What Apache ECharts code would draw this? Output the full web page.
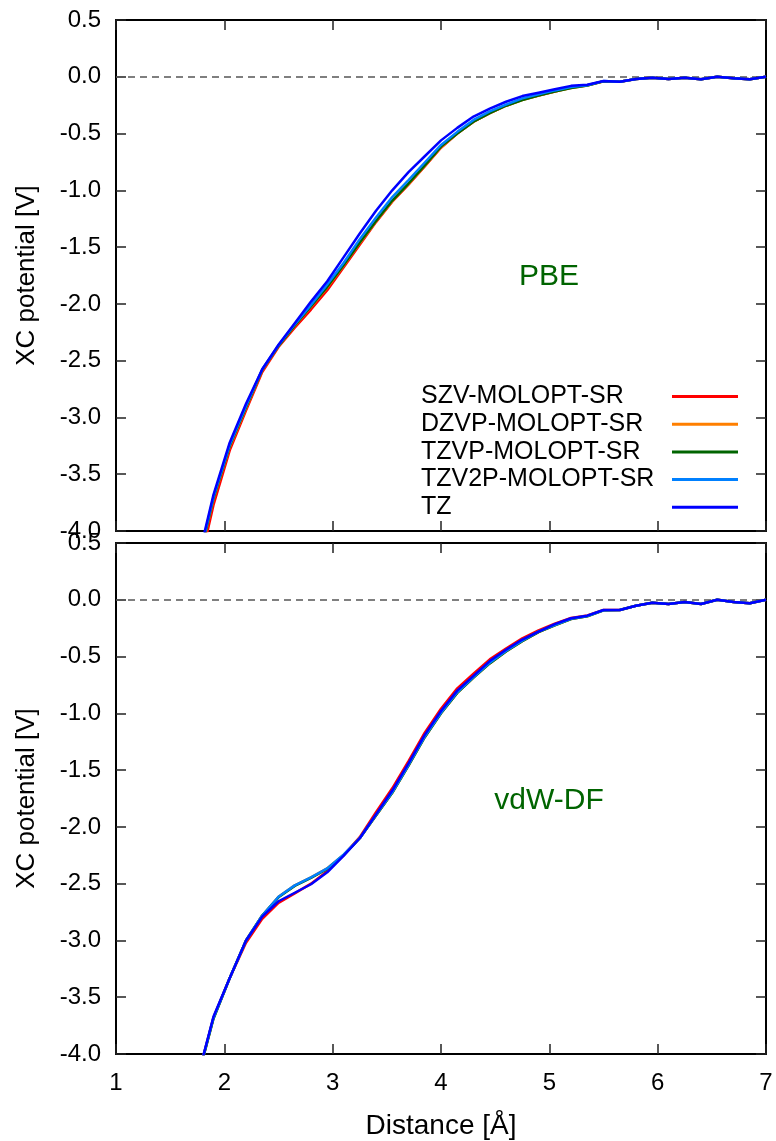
<!DOCTYPE html>
<html>
<head>
<meta charset="utf-8">
<script src="https://cdn.jsdelivr.net/npm/echarts@6/dist/echarts.min.js"></script>
<style>
html,body{margin:0;padding:0;background:#fff;}
#main{width:776px;height:1141px;}
</style>
</head>
<body>
<div id="main"></div>
<script>
const seriesNames = ['SZV-MOLOPT-SR','DZVP-MOLOPT-SR','TZVP-MOLOPT-SR','TZV2P-MOLOPT-SR','TZ'];
const seriesColors = ['#ff0000','#ff7f00','#006400','#0080ff','#0000ff'];
const panelLabels = ['PBE','vdW-DF'];
const yTicks = [-4,-3.5,-3,-2.5,-2,-1.5,-1,-0.5,0,0.5];
const xTicks = [1,2,3,4,5,6,7];

const xs = [1.75,1.9,2.05,2.2,2.35,2.5,2.65,2.8,2.95,3.1,3.25,3.4,3.55,3.7,3.85,4.0,4.15,4.3,4.45,4.6,4.75,4.9,5.05,5.2,5.35,5.5,5.65,5.8,5.95,6.1,6.25,6.4,6.55,6.7,6.85,7.0];

// PBE panel
const pbeSZV  = [-4.40,-3.77,-3.29,-2.94,-2.60,-2.38,-2.21,-2.05,-1.88,-1.68,-1.48,-1.28,-1.10,-0.95,-0.79,-0.625,-0.50,-0.395,-0.32,-0.255,-0.20,-0.165,-0.13,-0.095,-0.075,-0.04,-0.043,-0.02,-0.008,-0.02,-0.008,-0.022,0.0,-0.013,-0.022,0.0];
const pbeDZVP = [-4.33,-3.72,-3.26,-2.92,-2.585,-2.372,-2.195,-2.025,-1.855,-1.665,-1.465,-1.275,-1.095,-0.945,-0.785,-0.62,-0.50,-0.395,-0.32,-0.255,-0.205,-0.165,-0.13,-0.10,-0.078,-0.04,-0.043,-0.02,-0.008,-0.02,-0.008,-0.022,0.0,-0.013,-0.022,0.0];
const pbeTZVP = [-4.32,-3.71,-3.25,-2.91,-2.58,-2.37,-2.19,-2.02,-1.85,-1.66,-1.46,-1.27,-1.09,-0.94,-0.78,-0.615,-0.50,-0.395,-0.32,-0.255,-0.205,-0.165,-0.13,-0.10,-0.078,-0.04,-0.043,-0.02,-0.008,-0.02,-0.008,-0.022,0.0,-0.013,-0.022,0.0];
const pbeTZV2P= [-4.30,-3.70,-3.24,-2.90,-2.575,-2.365,-2.18,-2.01,-1.83,-1.64,-1.43,-1.24,-1.06,-0.91,-0.755,-0.60,-0.485,-0.38,-0.305,-0.245,-0.19,-0.155,-0.12,-0.09,-0.074,-0.038,-0.043,-0.02,-0.008,-0.02,-0.008,-0.022,0.0,-0.013,-0.022,0.0];
const pbeTZ   = [-4.28,-3.68,-3.22,-2.88,-2.575,-2.36,-2.17,-1.98,-1.80,-1.59,-1.38,-1.18,-1.00,-0.84,-0.70,-0.56,-0.45,-0.35,-0.28,-0.22,-0.17,-0.14,-0.11,-0.08,-0.07,-0.037,-0.043,-0.02,-0.008,-0.02,-0.008,-0.022,0.0,-0.013,-0.022,0.0];

// vdW-DF panel
const vdwSZV  = [-4.22,-3.68,-3.33,-3.02,-2.81,-2.67,-2.585,-2.50,-2.39,-2.25,-2.09,-1.87,-1.66,-1.42,-1.17,-0.96,-0.78,-0.65,-0.525,-0.43,-0.34,-0.27,-0.21,-0.16,-0.138,-0.09,-0.09,-0.052,-0.026,-0.037,-0.02,-0.037,0.0,-0.02,-0.03,0.0];
const vdwDZVP = [-4.23,-3.68,-3.33,-3.00,-2.78,-2.615,-2.515,-2.445,-2.365,-2.248,-2.10,-1.90,-1.70,-1.46,-1.21,-1.00,-0.82,-0.685,-0.56,-0.455,-0.365,-0.285,-0.225,-0.17,-0.145,-0.093,-0.09,-0.052,-0.026,-0.037,-0.02,-0.037,0.0,-0.02,-0.03,0.0];
const vdwTZVP = [-4.23,-3.69,-3.33,-3.00,-2.78,-2.62,-2.52,-2.45,-2.37,-2.25,-2.10,-1.90,-1.70,-1.46,-1.21,-1.00,-0.82,-0.685,-0.56,-0.455,-0.365,-0.285,-0.225,-0.17,-0.145,-0.093,-0.09,-0.052,-0.026,-0.037,-0.02,-0.037,0.0,-0.02,-0.03,0.0];
const vdwTZV2P= [-4.22,-3.68,-3.33,-3.00,-2.78,-2.615,-2.515,-2.445,-2.365,-2.245,-2.10,-1.895,-1.695,-1.455,-1.205,-0.995,-0.815,-0.68,-0.555,-0.45,-0.36,-0.28,-0.222,-0.168,-0.143,-0.092,-0.09,-0.052,-0.026,-0.037,-0.02,-0.037,0.0,-0.02,-0.03,0.0];
const vdwTZ   = [-4.22,-3.67,-3.33,-3.00,-2.79,-2.655,-2.58,-2.505,-2.40,-2.256,-2.10,-1.89,-1.68,-1.44,-1.19,-0.98,-0.80,-0.67,-0.54,-0.44,-0.35,-0.28,-0.215,-0.163,-0.14,-0.09,-0.09,-0.052,-0.026,-0.037,-0.02,-0.037,0.0,-0.02,-0.03,0.0];

const panels = [
  [pbeSZV, pbeDZVP, pbeTZVP, pbeTZV2P, pbeTZ],
  [vdwSZV, vdwDZVP, vdwTZVP, vdwTZV2P, vdwTZ]
];

const FONT = "'Liberation Sans', Arial, sans-serif";
const chart = echarts.init(document.getElementById('main'), null, {renderer: 'canvas'});

const gridTops = [20, 543];
const grids = gridTops.map(t => ({left: 116, width: 650, top: t, height: 511, show: false, containLabel: false}));

const axisLineStyle = {show: true, onZero: false, lineStyle: {color: '#000', width: 2}};
const tickStyle = {show: true, inside: true, length: 10, lineStyle: {color: '#222', width: 1.5}};

const xAxes = [];
const yAxes = [];
[0,1].forEach(g => {
  const isBottom = g === 1;
  xAxes.push({
    type: 'value', gridIndex: g, position: 'bottom', min: xTicks[0], max: xTicks[xTicks.length-1], interval: 1,
    axisLine: axisLineStyle, axisTick: tickStyle, splitLine: {show: false},
    axisLabel: {show: isBottom, margin: 17, color: '#000', fontSize: 24, fontFamily: FONT},
    name: isBottom ? 'Distance [Å]' : '', nameLocation: 'middle', nameGap: 58,
    nameTextStyle: {color: '#000', fontSize: 28, fontFamily: FONT}
  });
  xAxes.push({
    type: 'value', gridIndex: g, position: 'top', min: xTicks[0], max: xTicks[xTicks.length-1], interval: 1,
    axisLine: axisLineStyle, axisTick: tickStyle, splitLine: {show: false}, axisLabel: {show: false}
  });
  yAxes.push({
    type: 'value', gridIndex: g, position: 'left', min: yTicks[0], max: yTicks[yTicks.length-1], interval: 0.5,
    axisLine: axisLineStyle, axisTick: tickStyle, splitLine: {show: false},
    axisLabel: {show: true, margin: 15, color: '#000', fontSize: 24, fontFamily: FONT, formatter: v => v.toFixed(1)},
    name: 'XC potential [V]', nameLocation: 'middle', nameGap: 76, nameRotate: 90,
    nameTextStyle: {color: '#000', fontSize: 26, fontFamily: FONT}
  });
  yAxes.push({
    type: 'value', gridIndex: g, position: 'right', min: yTicks[0], max: yTicks[yTicks.length-1], interval: 0.5,
    axisLine: axisLineStyle, axisTick: tickStyle, splitLine: {show: false}, axisLabel: {show: false}
  });
});

const series = [];
panels.forEach((arrs, p) => {
  arrs.forEach((vals, i) => {
    const s = {
      name: seriesNames[i], type: 'line', xAxisIndex: p*2, yAxisIndex: p*2,
      data: xs.map((x, k) => [x, vals[k]]),
      showSymbol: false, symbol: 'none', clip: true, animation: false,
      lineStyle: {color: seriesColors[i], width: 2.5}, itemStyle: {color: seriesColors[i]},
      z: 3 + i
    };
    if (i === 0) {
      s.markLine = {
        silent: true, symbol: 'none', animation: false, label: {show: false},
        lineStyle: {color: '#555', width: 1.5, type: [7, 5]},
        data: [{yAxis: 0}], z: 1
      };
    }
    series.push(s);
  });
});

const option = {
  backgroundColor: '#fff',
  animation: false,
  grid: grids,
  xAxis: xAxes,
  yAxis: yAxes,
  legend: [
    {
      data: seriesNames, orient: 'vertical', left: 416, top: 384, padding: 0,
      itemGap: 2.7, itemWidth: 0, itemHeight: 0, icon: 'none',
      textStyle: {color: '#000', fontSize: 25, fontFamily: FONT, padding: 0}
    },
    {
      data: seriesNames, orient: 'vertical', left: 672, top: 384, padding: 0,
      itemGap: 2.7, itemWidth: 66, itemHeight: 3, icon: 'rect',
      formatter: () => ' ',
      textStyle: {color: '#000', fontSize: 25, fontFamily: FONT}
    }
  ],
  graphic: panelLabels.map((t, p) => ({
    type: 'text', x: 549, y: p === 0 ? 276.5 : 801,
    style: {text: t, fill: '#006400', font: '30px ' + FONT, textAlign: 'center', textVerticalAlign: 'middle'}
  })),
  series: series
};
chart.setOption(option);
</script>
</body>
</html>
